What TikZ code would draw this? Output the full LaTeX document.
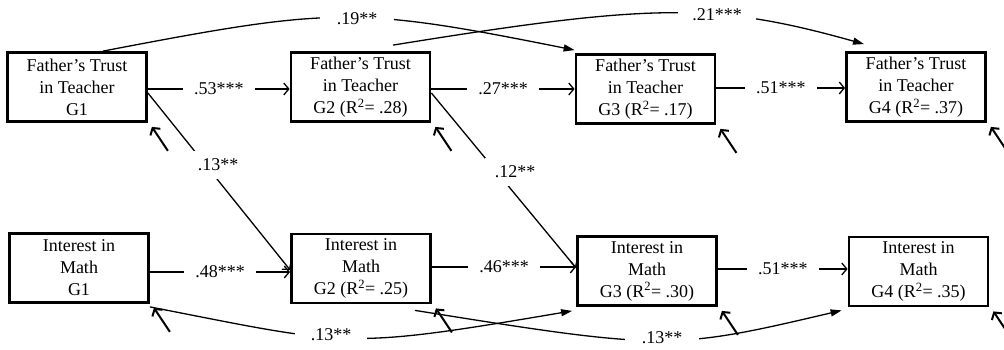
\documentclass[tikz,border=0pt]{standalone}
\usepackage{fontspec}
\setmainfont{Liberation Serif}
\usetikzlibrary{arrows.meta}
\tikzset{
  box/.style={draw, line width=2.8pt, minimum width=139pt, minimum height=69pt, align=center, inner sep=0pt, font=\fontsize{18}{22}\selectfont},
  lbl/.style={fill=white, inner xsep=11pt, inner ysep=2pt, font=\fontsize{18}{22}\selectfont},
  conn/.style={line width=1.3pt, -{Straight Barb[length=5pt,width=12pt]}},
  curv/.style={line width=1.3pt, -{Triangle[length=11pt,width=7pt]}},
  resid/.style={line width=2pt, -{Straight Barb[length=5pt,width=12pt]}}
}
\begin{document}
\begin{tikzpicture}[x=1pt,y=1pt]
\useasboundingbox (0,0) rectangle (1004,350);
% boxes
\node[box] (F1) at (77,263) {Father’s Trust\\in Teacher\\G1};
\node[box] (F2) at (360.5,263) {Father’s Trust\\in Teacher\\G2 (R\textsuperscript{2}= .28)};
\node[box] (F3) at (645.5,261) {Father’s Trust\\in Teacher\\G3 (R\textsuperscript{2}= .17)};
\node[box] (F4) at (916,263) {Father’s Trust\\in Teacher\\G4 (R\textsuperscript{2}= .37)};
\node[box] (I1) at (79,82) {Interest in\\Math\\G1};
\node[box] (I2) at (361,81.5) {Interest in\\Math\\G2 (R\textsuperscript{2}= .25)};
\node[box] (I3) at (647,79) {Interest in\\Math\\G3 (R\textsuperscript{2}= .30)};
\node[box] (I4) at (918.5,78.5) {Interest in\\Math\\G4 (R\textsuperscript{2}= .35)};
% horizontal paths
\draw[conn] ([yshift=-2pt]F1.east) -- node[lbl] (l53) {.53***} ([yshift=-2pt]F2.west);
\draw[conn] ([yshift=-2pt]F2.east) -- node[lbl] (l27) {.27***} ([yshift=0pt]F3.west);
\draw[conn] ([yshift=1pt]F3.east) -- node[lbl] (l51a) {.51***} ([yshift=-1pt]F4.west);
\draw[conn] ([yshift=-4pt]I1.east) -- node[lbl] (l48) {.48***} ([yshift=-3.5pt]I2.west);
\draw[conn] ([yshift=1.5pt]I2.east) -- node[lbl] (l46) {.46***} ([yshift=4pt]I3.west);
\draw[conn] ([yshift=2pt]I3.east) -- node[lbl] (l51b) {.51***} ([yshift=2.5pt]I4.west);
% diagonals
\draw[conn] ([yshift=-6pt]F1.east) -- ([yshift=-1.5pt]I2.west);
\draw[conn] ([yshift=-6pt]F2.east) -- ([yshift=3pt]I3.west);
\node[lbl, inner xsep=6pt, inner ysep=8pt] (l13d) at (218,185) {.13**};
\node[lbl, inner xsep=10pt, inner ysep=8pt] (l12d) at (515,178) {.12**};
% top curves
\draw[curv] ([xshift=26pt]F1.north) .. controls +(230,44) and +(-220,44) .. ([yshift=3pt]F3.north west);
\draw[curv] ([shift={(32.5pt,6pt)}]F2.north) .. controls +(260,42) and +(-150,42) .. ([shift={(-52pt,7pt)}]F4.north);
\node[lbl, inner xsep=17pt] (l19) at (357,331) {.19**};
\node[lbl, inner xsep=14pt] (l21) at (717,335) {.21***};
% bottom curves
\draw[curv] ([yshift=-3pt]I1.south east) .. controls +(200,-39) and +(-230,-39) .. ([shift={(-4pt,-4pt)}]I3.south west);
\draw[curv] ([shift={(54pt,-6pt)}]I2.south) .. controls +(250,-40) and +(-170,-40) .. ([shift={(-6pt,-3pt)}]I4.south west);
\node[lbl, inner xsep=16pt] (l13a) at (331,15) {.13**};
\node[lbl, inner xsep=17pt] (l13b) at (662,12) {.13**};
% residuals
\foreach \n in {F1,F2,F3,F4,I1,I2,I3,I4}{
  \coordinate (r\n) at ([shift={(20pt,-28pt)}]\n.south east);
  \draw[resid] (r\n) -- ([shift={(4pt,-4pt)}]\n.south east);
}
\end{tikzpicture}
\end{document}
